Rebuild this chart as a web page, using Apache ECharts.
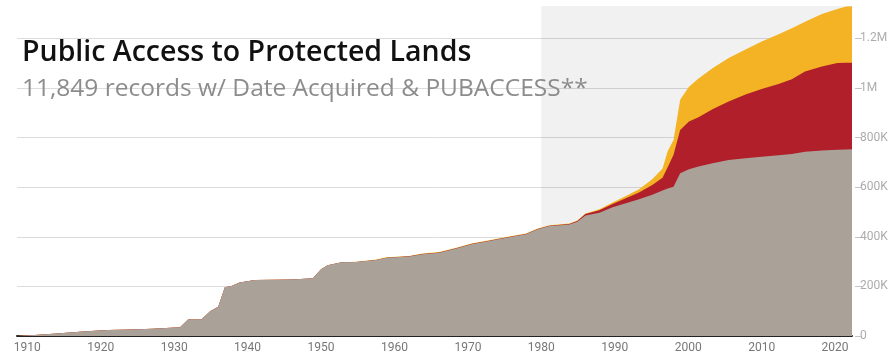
<!DOCTYPE html>
<html>
<head>
<meta charset="utf-8">
<script src="https://cdn.jsdelivr.net/npm/echarts@6/dist/echarts.min.js"></script>
<style>html,body{margin:0;padding:0;background:#fff}#c{width:894px;height:356px}</style>
</head>
<body>
<div id="c"></div>
<script>
// Data (values in thousands of acres, cumulative)
const years = [1908.6,1911,1914,1918,1921,1924,1927,1930.8,1931.9,1933.7,1934.9,1936,1936.9,1937.8,1938.9,1941,1946,1948.9,1950,1950.9,1952.8,1954.8,1957.5,1958.9,1962,1963.8,1966.1,1968.4,1970.6,1972.9,1975.2,1977.9,1979.5,1981.1,1983.8,1984.9,1986,1987.9,1989.7,1991.5,1993.3,1995.1,1996.5,1997.2,1998,1998.9,2000.1,2001.4,2003.3,2005.5,2007.8,2010,2012.3,2014.1,2015.9,2018.2,2020.3,2021.5,2022.3];
const grayVals = [0,4,10,19,24,26,29,35,67,67,100,118,196,202,216,226,228,233,269,285,297,298,306,315,320,329,336,353,371,383,396,410,430,443,449,460,486,497,519,535,551,569,586,594,602,656,672,683,696,709,716,722,728,734,743,748,751,752,753];
const redVals = [0,0,0,0,0,0,0,0,0,0,0,0,0,0,0,0,0,0,0,0,0,0.5,0.5,0.5,1,1,1,1,1,1,1,1,1,1,2,3,6,10,13,20,27,40,52,86,128,174,193,199,218,236,257,273,288,301,323,338,349,349,348];
const yellowVals = [0,0,0,0,0,0,0,0,0,0,0,0,0,0,0,0,0,0,0,0,0,1,1.5,1.5,1.5,2,2,2,2,2,2,2,2,2,2,2,2,4,6,9,13,23,37,65,60,122,140,156,165,175,182,192,200,205,201,212,218,227,228];
const xTicks = [1910,1920,1930,1940,1950,1960,1970,1980,1990,2000,2010,2020];
const yTicks = [0,200,400,600,800,1000,1200];
const titleText = 'Public Access to Protected Lands';
const subText = '11,849 records w/ Date Acquired & PUBACCESS**';

// cumulative stacks computed from the series values
const redTop = grayVals.map((g, i) => g + redVals[i]);
const yellowTop = redTop.map((r, i) => r + yellowVals[i]);
const pairs = arr => years.map((y, i) => [y, arr[i]]);

const chart = echarts.init(document.getElementById('c'), null, {renderer: 'canvas'});
const labelFont = "'Liberation Sans Narrow', 'Roboto', sans-serif";
const areaSeries = (name, arr, color, z) => ({
  name, type: 'line', data: pairs(arr), z: z,
  showSymbol: false, symbol: 'none', lineStyle: {width: 0}, areaStyle: {color: color, opacity: 1, origin: 'start'},
  emphasis: {disabled: true}, animation: false
});
chart.setOption({
  animation: false,
  title: [
    {text: titleText, left: 17, top: 33, padding: 5, textStyle: {fontFamily: 'Open Sans', fontWeight: 600, fontSize: 28.5, color: '#111'}},
    {text: subText, left: 17, top: 72, padding: 5, textStyle: {fontFamily: 'Open Sans', fontWeight: 'normal', fontSize: 24.5, color: '#8c8c8c'}}
  ],
  grid: {left: 17, right: 42, top: 6, bottom: 20, containLabel: false},
  xAxis: {
    type: 'value', min: 1908.6, max: 2022.3,
    axisLine: {show: true, onZero: false, lineStyle: {color: '#222', width: 2}},
    axisTick: {show: false},
    splitLine: {show: false},
    axisLabel: {customValues: xTicks, formatter: v => String(v), color: '#777', fontSize: 12, fontFamily: labelFont, margin: 6}
  },
  yAxis: {
    type: 'value', position: 'right', min: 0, max: 1330, offset: 3,
    axisLine: {show: false},
    axisTick: {show: true, customValues: yTicks, length: 7, lineStyle: {color: '#c4c4c4'}},
    splitLine: {show: true, lineStyle: {color: '#dcdcdc', width: 1}},
    axisLabel: {customValues: yTicks, color: '#acacac', fontSize: 12, fontFamily: labelFont, margin: 5,
      formatter: v => v === 0 ? '0' : (v >= 1000 ? (v / 1000) + 'M' : v + 'K')}
  },
  series: [
    {type: 'line', data: [], z: 1, silent: true,
     markArea: {silent: true, itemStyle: {color: 'rgba(0,0,0,0.055)'}, data: [[{xAxis: 1980}, {xAxis: 2022.3}]]}},
    areaSeries('Unknown', yellowTop, '#f3b324', 2),
    areaSeries('Restricted', redTop, '#b01f2a', 3),
    areaSeries('Public', grayVals, '#aaa198', 4)
  ]
});
</script>
</body>
</html>
